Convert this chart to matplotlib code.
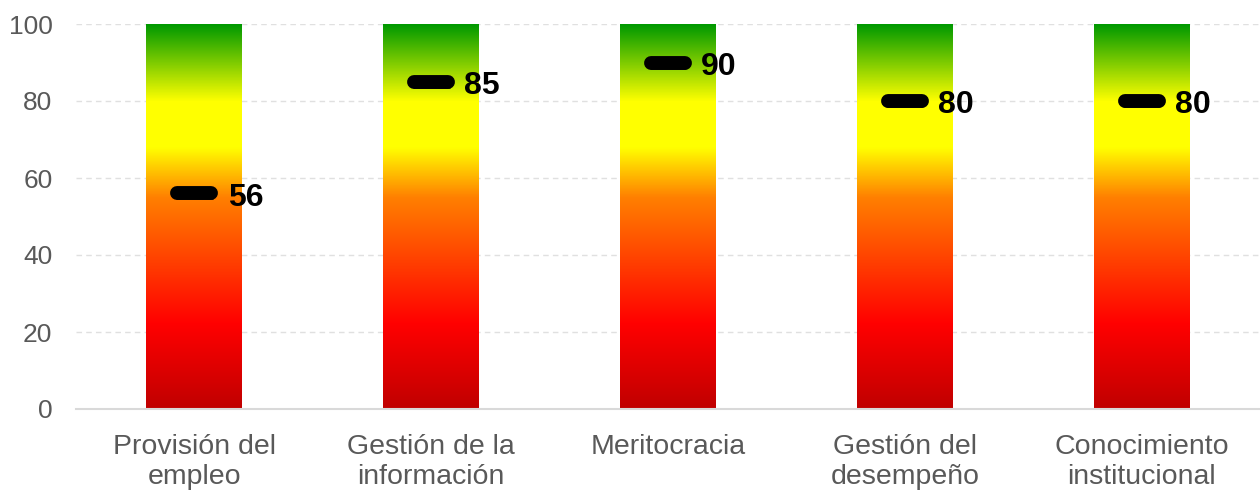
import matplotlib
matplotlib.use("Agg")
import matplotlib.pyplot as plt
from matplotlib.colors import LinearSegmentedColormap
import numpy as np

plt.rcParams['font.family'] = ['Liberation Sans', 'DejaVu Sans']

categorias = ["Provisión del\nempleo", "Gestión de la\ninformación", "Meritocracia",
              "Gestión del\ndesempeño", "Conocimiento\ninstitucional"]
puntajes = [56, 85, 90, 80, 80]
techo = [100, 100, 100, 100, 100]

# semaforo: rojo oscuro abajo -> rojo -> naranja -> amarillo -> verde arriba
semaforo = LinearSegmentedColormap.from_list("semaforo", [
    (0.00, "#C00000"),
    (0.22, "#FF0000"),
    (0.55, "#FF8000"),
    (0.68, "#FFFF00"),
    (0.80, "#FFFF00"),
    (1.00, "#009900"),
])

fig = plt.figure(figsize=(12.6, 4.91), dpi=100)
ax = fig.add_axes([76 / 1260, 1 - 409 / 491, 1 - 76 / 1260, 385 / 491])

ancho = 0.405
grad = np.linspace(0, 1, 256).reshape(-1, 1)
x = np.arange(len(categorias))
for i, h in enumerate(techo):
    ax.imshow(grad, extent=[x[i] - ancho / 2, x[i] + ancho / 2, 0, h],
              origin="lower", aspect="auto", cmap=semaforo, zorder=2)

# marcadores del puntaje
ax.hlines(puntajes, x - 0.078, x + 0.078, colors="black", linewidth=9,
          capstyle="butt", zorder=3)
ax.hlines(puntajes, x - 0.072, x + 0.072, colors="black", linewidth=10,
          capstyle="round", zorder=3)
for i, p in enumerate(puntajes):
    ax.text(x[i] + 0.14, p - 1.1, str(p), fontsize=23, fontweight="bold",
            va="center", ha="left", color="black", zorder=4)

ax.set_xlim(-0.5, 4.5)
ax.set_ylim(0, 100)
ax.set_yticks(range(0, 101, 20))
ax.yaxis.grid(True, color="#e0e0e0", linestyle=(0, (4, 3)), linewidth=1, zorder=0)
ax.set_axisbelow(True)

ax.set_xticks(x)
ax.set_xticklabels(categorias, fontsize=20.5, color="#595959", linespacing=1.2)
ax.tick_params(axis="y", labelsize=19, labelcolor="#595959", length=0, pad=17)
ax.tick_params(axis="x", length=0, pad=18)

for s in ["top", "right", "left"]:
    ax.spines[s].set_visible(False)
ax.spines["bottom"].set_color("#d9d9d9")
ax.spines["bottom"].set_linewidth(1.5)

fig.savefig("out.png", dpi=100)
